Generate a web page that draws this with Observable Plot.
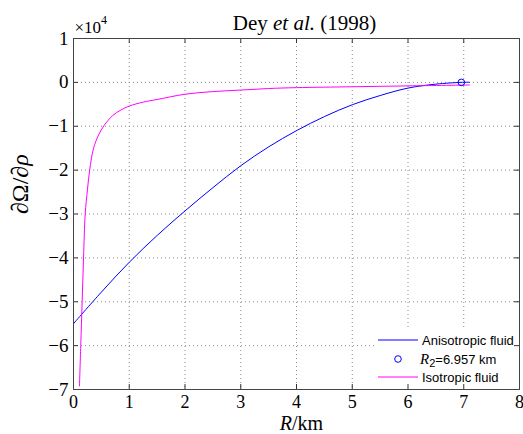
<!DOCTYPE html>
<html><head><meta charset="utf-8">
<script src="https://cdn.jsdelivr.net/npm/d3@7"></script>
<script src="https://cdn.jsdelivr.net/npm/@observablehq/plot@0.6"></script>
<style>body{margin:0;background:#fff}</style>
</head><body><div id="chart"></div>
<script>
// ---- data (values in units of 10^4) ----
const xTicks = [0, 1, 2, 3, 4, 5, 6, 7, 8];
const yTicks = [1, 0, -1, -2, -3, -4, -5, -6, -7];
const xDomain = [0, 8];
const yDomain = [-7, 1];
const anisoR = [0, 0.5, 1, 1.5, 2, 2.5, 3, 3.5, 4, 4.5, 5, 5.5, 6, 6.5, 6.957, 7.1];
const anisoV = [-5.50, -4.78, -4.10, -3.49, -2.93, -2.40, -1.90, -1.47, -1.10, -0.78, -0.51, -0.30, -0.13, -0.04, 0, 0.003];
const isoR = [0.107, 0.13, 0.155, 0.18, 0.21, 0.25, 0.29, 0.36, 0.45, 0.55, 0.70, 0.85, 1.0, 1.25, 1.5, 2.0, 2.5, 3.0, 3.5, 4.0, 5.0, 6.0, 7.1];
const isoV = [-6.92, -6.0, -5.0, -4.0, -3.0, -2.45, -2.0, -1.5, -1.2, -0.98, -0.76, -0.63, -0.54, -0.45, -0.39, -0.27, -0.21, -0.175, -0.14, -0.12, -0.10, -0.08, -0.06];
const markerR = [6.957];
const markerV = [0];
const seriesNames = ["Anisotropic fluid", "R2=6.957 km", "Isotropic fluid"];
const seriesColors = ["#0000ff", "#0000ff", "#ff00ff"];
const titleText = "Dey et al. (1998)";
const xLabel = "R/km";
const yLabel = "∂Ω/∂ρ";
const exponentText = "×10^4";

// ---- tables ----
const aniso = anisoR.map((r, i) => ({r, v: anisoV[i]}));
const iso = isoR.map((r, i) => ({r, v: isoV[i]}));
const marker = markerR.map((r, i) => ({r, v: markerV[i]}));

const SERIF = "'Liberation Serif', 'Times New Roman', serif";
const SANS = "'Liberation Sans', Arial, sans-serif";
const W = 523, H = 434, mL = 73, mR = 4, mT = 38, mB = 45;
const innerW = W - mL - mR, innerH = H - mT - mB;

const chart = Plot.plot({
  width: W, height: H,
  marginLeft: mL, marginRight: mR, marginTop: mT, marginBottom: mB,
  x: {domain: xDomain},
  y: {domain: yDomain},
  marks: [
    Plot.gridX(xTicks, {stroke: "#8a8a8a", strokeOpacity: 1, strokeDasharray: "1,3"}),
    Plot.gridY(yTicks, {stroke: "#8a8a8a", strokeOpacity: 1, strokeDasharray: "1,3"}),
    Plot.line(aniso, {x: "r", y: "v", stroke: seriesColors[0], strokeWidth: 1, curve: "catmull-rom"}),
    Plot.line(iso, {x: "r", y: "v", stroke: seriesColors[2], strokeWidth: 1, curve: "catmull-rom"}),
    Plot.dot(marker, {x: "r", y: "v", r: 3.3, stroke: seriesColors[1], fill: "none", strokeWidth: 1}),
    Plot.ruleX(xTicks, {x: d => d, insetTop: innerH - 5, stroke: "#333"}),
    Plot.ruleX(xTicks, {x: d => d, insetBottom: innerH - 5, stroke: "#333"}),
    Plot.ruleY(yTicks, {y: d => d, insetRight: innerW - 5, stroke: "#333"}),
    Plot.ruleY(yTicks, {y: d => d, insetLeft: innerW - 5, stroke: "#333"}),
    Plot.frame({stroke: "#444", strokeWidth: 1}),
    Plot.axisX(xTicks, {tickSize: 0, tickPadding: 6, label: null, fontSize: 18}),
    Plot.axisY(yTicks, {tickSize: 0, tickPadding: 5, label: null, fontSize: 19}),
    Plot.text([titleText], {frameAnchor: "top", dx: 8, dy: -9, lineAnchor: "bottom", fontSize: 21}),
    Plot.text([xLabel], {frameAnchor: "bottom", dx: 5, dy: 40, lineAnchor: "bottom", fontSize: 20}),
    Plot.text([yLabel], {frameAnchor: "left", dx: -53, rotate: -90, lineAnchor: "middle", fontSize: 24}),
    Plot.text([exponentText], {frameAnchor: "top-left", dx: 1, dy: -6, lineAnchor: "bottom", textAnchor: "start", fontSize: 17})
  ]
});

chart.setAttribute("font-family", SERIF);
chart.style.fontFamily = SERIF;
chart.style.background = "white";

const NS = "http://www.w3.org/2000/svg";
const allTexts = Array.from(chart.querySelectorAll("text"));
function rich(content, parts) {
  const t = allTexts.find(e => e.textContent === content);
  if (!t) return;
  t.textContent = "";
  for (const [s, attrs] of parts) {
    const ts = document.createElementNS(NS, "tspan");
    ts.textContent = s;
    for (const k in attrs) ts.setAttribute(k, attrs[k]);
    t.appendChild(ts);
  }
}
{
  const i = titleText.indexOf("et al.");
  rich(titleText, [
    [titleText.slice(0, i), {}],
    ["et al.", {"font-style": "italic"}],
    [titleText.slice(i + 6), {}]
  ]);
}
rich(xLabel, [
  [xLabel.slice(0, 1), {"font-style": "italic"}],
  [xLabel.slice(1), {}]
]);
rich(yLabel, [
  [yLabel.slice(0, 4), {}],
  [yLabel.slice(4), {"font-style": "italic"}]
]);
{
  const [base, exp] = exponentText.split("^");
  rich(exponentText, [
    [base, {}],
    [exp, {"font-size": "12px", dy: "-9"}]
  ]);
}

// ---- legend ----
const sx = chart.scale("x"), sy = chart.scale("y");
const right = sx.apply(xDomain[1]), bottom = sy.apply(yDomain[0]);
const lg = d3.create("svg:g").attr("aria-label", "legend")
  .attr("font-family", SANS).attr("font-size", 13).attr("text-anchor", "start").attr("fill", "black");
lg.append("rect").attr("x", right - 144).attr("y", bottom - 62).attr("width", 144).attr("height", 62).attr("fill", "white");
const rows = [bottom - 49, bottom - 30, bottom - 12];
const lx0 = right - 141, lx1 = right - 101, tx = right - 97;
lg.append("line").attr("x1", lx0).attr("x2", lx1).attr("y1", rows[0]).attr("y2", rows[0]).attr("stroke", seriesColors[0]);
lg.append("text").attr("x", tx).attr("y", rows[0]).attr("dy", "0.35em").text(seriesNames[0]);
lg.append("circle").attr("cx", (lx0 + lx1) / 2).attr("cy", rows[1]).attr("r", 3.3).attr("fill", "none").attr("stroke", seriesColors[1]);
{
  const t = lg.append("text").attr("x", tx - 2).attr("y", rows[1]).attr("dy", "0.35em");
  const name = seriesNames[1];
  t.append("tspan").attr("font-family", SERIF).attr("font-style", "italic").attr("font-size", 15).text(name.slice(0, 1));
  t.append("tspan").attr("font-size", 11).attr("dy", 3).text(name.slice(1, 2));
  t.append("tspan").attr("dy", -3).text(name.slice(2));
}
lg.append("line").attr("x1", lx0).attr("x2", lx1).attr("y1", rows[2]).attr("y2", rows[2]).attr("stroke", seriesColors[2]);
lg.append("text").attr("x", tx).attr("y", rows[2]).attr("dy", "0.35em").text(seriesNames[2]);

const firstRule = chart.querySelector('g[aria-label="rule"]');
chart.insertBefore(lg.node(), firstRule);

document.getElementById("chart").appendChild(chart);
</script>
</body></html>
